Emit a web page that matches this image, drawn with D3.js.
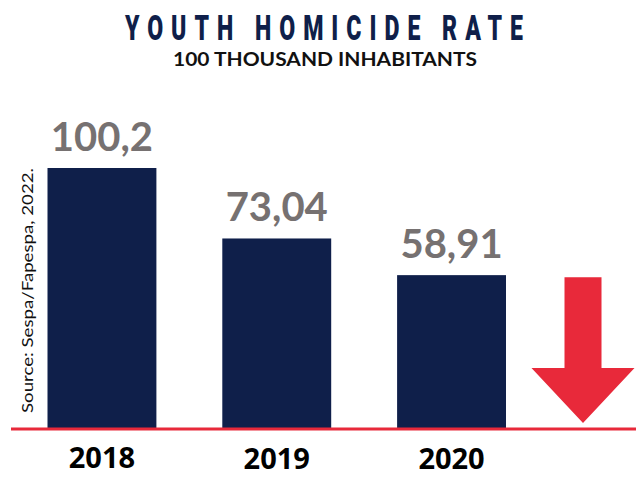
<!DOCTYPE html>
<html>
<head>
<meta charset="utf-8">
<script src="https://cdn.jsdelivr.net/npm/d3@7"></script>
<style>
  html, body { margin: 0; padding: 0; background: #fff; }
  svg { display: block; }
</style>
</head>
<body>
<svg id="chart"></svg>
<script>
// Data
const years = ["2018", "2019", "2020"];
const rates = [100.2, 73.04, 58.91];
const rateLabels = ["100,2", "73,04", "58,91"];

const width = 636, height = 477;
const navy = "#0f1f4a", red = "#e8293a", gray = "#767171";

const svg = d3.select("#chart")
    .attr("width", width)
    .attr("height", height);

// Scales
const x = d3.scaleBand()
    .domain(years)
    .range([47.5, 506])
    .paddingInner(0.377)
    .paddingOuter(0);

const y = d3.scaleLinear()
    .domain([0, 100.2])
    .range([428, 168]);

// Title (condensed look: squeeze horizontally, spread letters)
const squeeze = 0.66;
svg.append("g")
    .attr("transform", `translate(324,40) scale(${squeeze},1)`)
    .append("text")
    .attr("x", 0)
    .attr("y", 0)
    .attr("text-anchor", "middle")
    .attr("textLength", 398 / squeeze)
    .attr("lengthAdjust", "spacing")
    .style("font-family", "Roboto, 'DejaVu Sans', sans-serif")
    .style("font-weight", "900")
    .style("font-size", "35px")
    .attr("fill", navy)
    .text("YOUTH HOMICIDE RATE");

svg.append("text")
    .attr("x", 325)
    .attr("y", 66)
    .attr("text-anchor", "middle")
    .attr("textLength", 304)
    .attr("lengthAdjust", "spacingAndGlyphs")
    .style("font-family", "Lato, 'Open Sans', sans-serif")
    .style("font-weight", "bold")
    .style("font-size", "19px")
    .attr("fill", "#111")
    .text("100 THOUSAND INHABITANTS");

// Bars
const data = years.map((yr, i) => ({ year: yr, rate: rates[i], label: rateLabels[i] }));

svg.selectAll("rect.bar")
    .data(data)
    .join("rect")
    .attr("class", "bar")
    .attr("x", d => x(d.year))
    .attr("y", d => y(d.rate))
    .attr("width", x.bandwidth())
    .attr("height", d => y(0) - y(d.rate))
    .attr("fill", navy);

// Value labels
svg.selectAll("text.val")
    .data(data)
    .join("text")
    .attr("class", "val")
    .attr("x", d => x(d.year) + x.bandwidth() / 2)
    .attr("y", d => y(d.rate) - 17)
    .attr("text-anchor", "middle")
    .style("font-family", "Lato, sans-serif")
    .style("font-weight", "bold")
    .style("font-size", "40px")
    .attr("fill", gray)
    .text(d => d.label);

// Year labels
svg.selectAll("text.year")
    .data(data)
    .join("text")
    .attr("class", "year")
    .attr("x", d => x(d.year) + x.bandwidth() / 2)
    .attr("y", (d, i) => i === 0 ? 468 : 469)
    .attr("text-anchor", "middle")
    .style("font-family", "'Open Sans', sans-serif")
    .style("font-weight", "bold")
    .style("font-size", "29px")
    .attr("fill", "#000")
    .text(d => d.year);

// Baseline
svg.append("line")
    .attr("x1", 11)
    .attr("x2", width)
    .attr("y1", y(0) + 1)
    .attr("y2", y(0) + 1)
    .attr("stroke", red)
    .attr("stroke-width", 3);

// Down arrow, placed right of last bar
const ax = x(years[years.length - 1]) + x.bandwidth() + 77;
const shaftTop = y(rates[rates.length - 1]) + 2;
const headTop = 368, tip = y(0) - 5;
const shaftW = 37, headW = 103;
svg.append("polygon")
    .attr("points", [
        [ax - shaftW / 2, shaftTop], [ax + shaftW / 2, shaftTop],
        [ax + shaftW / 2, headTop], [ax + headW / 2, headTop],
        [ax, tip], [ax - headW / 2, headTop],
        [ax - shaftW / 2, headTop]
    ].map(p => p.join(",")).join(" "))
    .attr("fill", red);

// Source (rotated)
svg.append("text")
    .attr("transform", "translate(33,413) rotate(-90)")
    .attr("textLength", 245)
    .attr("lengthAdjust", "spacingAndGlyphs")
    .style("font-family", "Lato, sans-serif")
    .style("font-size", "16px")
    .attr("fill", "#111")
    .text("Source: Sespa/Fapespa, 2022.");
</script>
</body>
</html>
